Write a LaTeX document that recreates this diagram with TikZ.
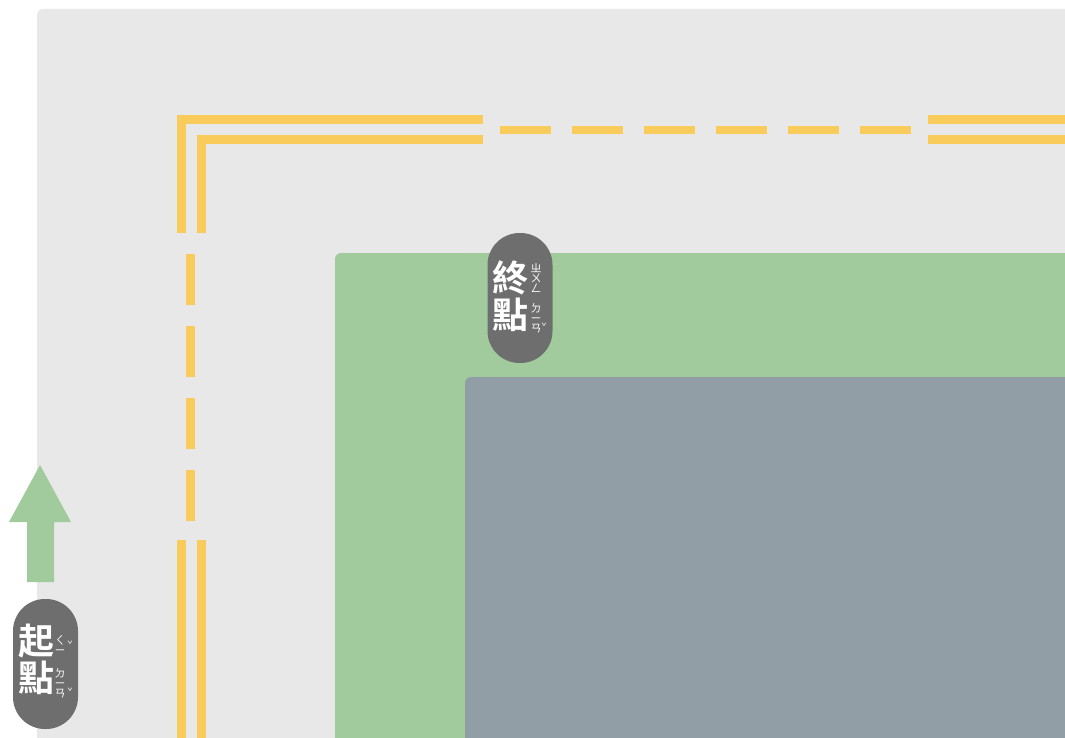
\documentclass[tikz,border=0pt]{standalone}
\usepackage{fontspec}
\newfontfamily\cjk{Noto Sans CJK TC}[BoldFont={Noto Sans CJK TC Bold}]
\usetikzlibrary{positioning}

\definecolor{ground}{HTML}{E8E8E8}
\definecolor{lane}{HTML}{F9CB5A}
\definecolor{grass}{HTML}{A1CB9C}
\definecolor{block}{HTML}{929EA6}
\definecolor{badge}{HTML}{6E6E6E}

\begin{document}
\begin{tikzpicture}[
  x=1pt, y=-1pt,
  lane/.style={draw=lane, line width=9pt},
  dashlane/.style={draw=lane, line width=8.5pt, dash pattern=on 51pt off 21pt},
  pill/.style={fill=badge, rounded corners=32pt, minimum width=65pt,
               minimum height=130pt, inner sep=0pt},
  big/.style={text=white, font=\cjk\bfseries\fontsize{36}{36}\selectfont, inner sep=0pt},
  zhuyin/.style={text=white, font=\cjk\fontsize{11}{10}\selectfont,
                 align=center, inner sep=0pt},
  tone/.style={text=white, font=\cjk\fontsize{9}{9}\selectfont, inner sep=0pt}]
\useasboundingbox (0,0) rectangle (1065,738);
\clip (0,0) rectangle (1065,738);
% ground and fields
\fill[ground, rounded corners=6pt] (37,9) rectangle (1080,750);
\fill[grass, rounded corners=6pt] (335,253) rectangle (1080,750);
\fill[block, rounded corners=6pt] (465,377) rectangle (1080,750);
% road markings
\draw[lane] (181,233) -- (181,119.5) -- (483,119.5);
\draw[lane] (201,233) -- (201,139.5) -- (483,139.5);
\draw[lane] (928,119.5) -- (1065,119.5);
\draw[lane] (928,139.5) -- (1065,139.5);
\draw[lane] (181,540) -- (181,738);
\draw[lane] (201,540) -- (201,738);
\draw[dashlane] (500,130) -- (911,130);
\draw[dashlane] (190.5,254) -- (190.5,521);
% arrow
\fill[grass] (40,465) -- (71,522) -- (54,522) -- (54,582) -- (27,582)
  -- (27,522) -- (9,522) -- cycle;
% finish badge
\node[pill] (finish) at (520,298) {};
\node[big] (fin1) at (510,278) {終};
\node[big] (fin2) at (510,315) {點};
\node[zhuyin] (finzy1) at (536,278) {ㄓ\\ㄨ\\ㄥ};
\node[zhuyin] (finzy2) at (536,318) {ㄉ\\ㄧ\\ㄢ};
\node[tone] (fintone) at (544,327) {ˇ};
% start badge
\node[pill] (start) at (45.5,664) {};
\node[big] (sta1) at (36,641) {起};
\node[big] (sta2) at (36,678) {點};
\node[zhuyin] (stazy1) at (60,645) {ㄑ\\ㄧ};
\node[zhuyin] (stazy2) at (60,683) {ㄉ\\ㄧ\\ㄢ};
\node[tone] (statone1) at (70,645) {ˇ};
\node[tone] (statone2) at (70,692) {ˇ};
\end{tikzpicture}
\end{document}
